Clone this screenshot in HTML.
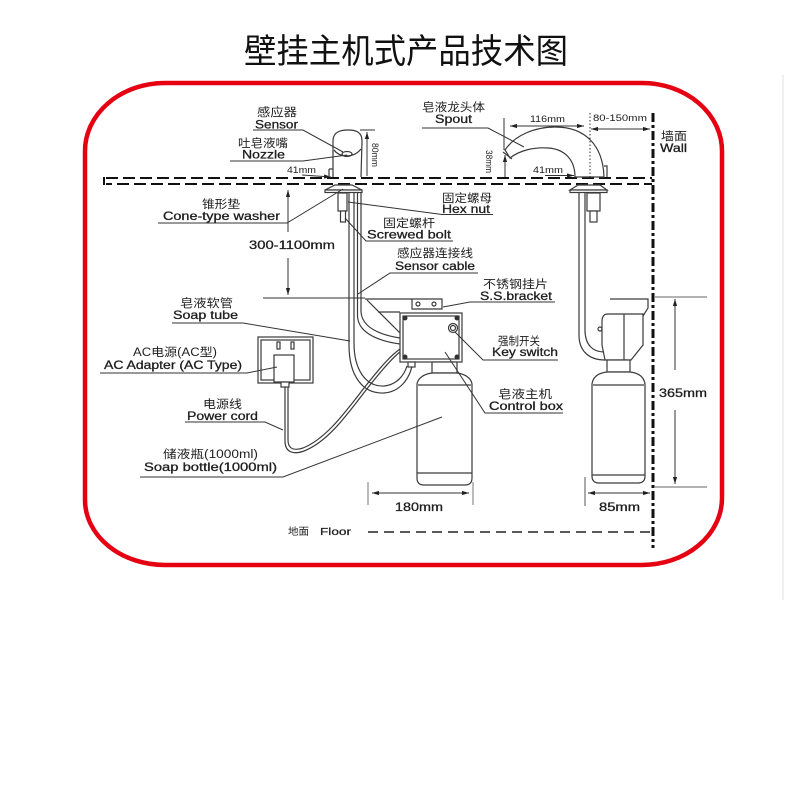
<!DOCTYPE html>
<html><head><meta charset="utf-8"><style>
html,body{margin:0;padding:0;background:#fff;}
svg{display:block;}
text{font-family:"Liberation Sans","Noto Sans CJK SC",sans-serif;fill:#1e1e1e;}
.cn{font-size:11.5px;}
.en{font-size:12px;stroke:#1e1e1e;stroke-width:0.3px;}
.sm{font-size:9px;}
.ln{fill:none;stroke:#333;stroke-width:1;}
.dr{fill:none;stroke:#3a3a3a;stroke-width:1.2;}
.dw{fill:#fff;stroke:#3a3a3a;stroke-width:1.2;}
</style></head><body>
<svg width="800" height="787" viewBox="0 0 800 787" xmlns="http://www.w3.org/2000/svg">
<defs>
<marker id="a" viewBox="0 0 10 10" refX="10" refY="5" markerWidth="7" markerHeight="7" orient="auto-start-reverse"><path d="M0,2 L10,5 L0,8 z" fill="#222"/></marker>
</defs>
<rect width="800" height="787" fill="#fff"/>
<line x1="783" y1="75" x2="783" y2="600" stroke="#ececec" stroke-width="1.5"/>

<!-- Title -->
<text x="244" y="63" style="font-size:34px;font-family:'Noto Sans CJK SC','WenQuanYi Zen Hei',sans-serif;fill:#111" textLength="324" lengthAdjust="spacingAndGlyphs">壁挂主机式产品技术图</text>

<!-- Red border -->
<path d="M165,83 L642,83 A80,68 0 0 1 722,151 L722,498 A80,67 0 0 1 642,565 L165,565 A80,65 0 0 1 85,500 L85,151 A80,68 0 0 1 165,83 Z" fill="none" stroke="#e50012" stroke-width="4.5"/>

<!-- Counter top -->
<line x1="106" y1="178" x2="652" y2="178" stroke="#111" stroke-width="2" stroke-dasharray="12 5"/>
<line x1="106" y1="184" x2="652" y2="184" stroke="#111" stroke-width="2" stroke-dasharray="12 5" stroke-dashoffset="6"/>
<line x1="104" y1="177" x2="104" y2="185" stroke="#111" stroke-width="2"/>

<!-- Wall -->
<line x1="653" y1="113" x2="653" y2="548" stroke="#111" stroke-width="3" stroke-dasharray="9 3 3 3"/>

<!-- Floor -->
<text x="288" y="535" style="font-size:10px" textLength="21" lengthAdjust="spacingAndGlyphs">地面</text>
<text x="320" y="535" style="font-size:10px;stroke:#1e1e1e;stroke-width:0.25px" textLength="31" lengthAdjust="spacingAndGlyphs">Floor</text>
<line x1="368" y1="532" x2="650" y2="532" stroke="#222" stroke-width="1.5" stroke-dasharray="10 6"/>

<!-- ===== Left sensor faucet ===== -->
<path class="dw" d="M333,177 L333,141 C333,132 340,130 348,130 C356,130 362,132 362,141 L361,177"/>
<path class="dr" d="M334,150 C340,158 354,158 361,149"/>
<ellipse cx="347" cy="154" rx="5" ry="2.5" class="dr"/>
<path class="dr" d="M329,169 L333,169 M329,169 L329,176"/>
<!-- 80mm -->
<line x1="360" y1="130" x2="375" y2="130" class="ln"/>
<line x1="367" y1="176" x2="367" y2="132" class="ln" marker-end="url(#a)"/>
<text transform="translate(372,143) rotate(90)" class="sm" textLength="24" lengthAdjust="spacingAndGlyphs">80mm</text>
<!-- 41mm left -->
<text x="287" y="173" class="sm" textLength="29" lengthAdjust="spacingAndGlyphs">41mm</text>
<line x1="302" y1="175" x2="331" y2="177" class="ln" marker-end="url(#a)"/>

<!-- left underside -->
<polygon points="335,185 352,185 362,190 325,190" class="dw"/>
<rect x="325" y="190" width="37" height="2.5" class="dw"/>
<path class="dr" d="M349,192 L349,345 C349,375 362,394 384,393 C399,392 409,380 412,366"/>
<path class="dr" d="M354,192 L354,343 C354,370 366,387 384,386 C396,385 404,376 407,366"/>
<path class="dr" d="M357.5,192 L357.5,316 C358,330 372,340 400,344"/>
<path class="dr" d="M361,192 L361,312 C362,325 375,334 400,338"/>
<rect x="338" y="193" width="9" height="18" class="dw"/>
<rect x="340.5" y="211" width="5" height="11" class="dw"/>

<!-- 300-1100mm -->
<line x1="288" y1="232" x2="288" y2="190" class="ln" marker-end="url(#a)"/>
<line x1="288" y1="258" x2="288" y2="295" class="ln" marker-end="url(#a)"/>
<text x="249" y="249" class="en" textLength="86" lengthAdjust="spacingAndGlyphs">300-1100mm</text>
<line x1="263" y1="298" x2="365" y2="298" class="ln"/>

<!-- Bracket left -->
<path class="dr" d="M365,299 L442,299 L442,309 L412,309 L412,299"/>
<circle cx="418" cy="304" r="2" class="dr"/>
<circle cx="434" cy="304" r="2" class="dr"/>
<path class="dr" d="M367,300 L401,334 M378,312 L400,312"/>

<!-- Power cord -->
<path class="dr" d="M285,387 L285,441 C285,452 293,455 304,451 C330,441 350,410 370,385 C382,370 392,358 400,352"/>
<path class="dr" d="M288,387 L288,440 C288,449 294,451 303,448 C328,438 348,408 368,383 C380,368 390,356 400,349"/>

<!-- Adapter / socket -->
<rect x="258" y="337" width="55" height="46" class="dw"/>
<rect x="261" y="340" width="49" height="40" class="dr"/>
<rect x="277" y="342" width="3" height="7" class="dr"/>
<rect x="291" y="342" width="3" height="7" class="dr"/>
<rect x="274" y="355" width="20" height="27" class="dw"/>
<rect x="281" y="382" width="8" height="5" class="dw"/>

<!-- Control box left -->
<rect x="400" y="313" width="62" height="49" class="dw" stroke-width="1.5"/>
<rect x="403" y="316" width="56" height="43" class="dr" stroke-width="0.8"/>
<circle cx="405" cy="318" r="2.5" fill="#333"/>
<circle cx="457" cy="318" r="2.5" fill="#333"/>
<circle cx="405" cy="357" r="2.5" fill="#333"/>
<circle cx="457" cy="357" r="2.5" fill="#333"/>
<circle cx="453" cy="328" r="4.5" class="dr"/>
<circle cx="453" cy="328" r="2.5" class="dr"/>
<rect x="408" y="362" width="7" height="5" class="dw"/>

<!-- Bottle left -->
<rect x="432" y="362" width="25" height="11" class="dw"/>
<path class="dw" d="M432,373 C424,374 418,378 417,384 L417,478 Q417,485 424,485 L465,485 Q472,485 472,478 L472,384 C471,378 465,374 457,373 Z"/>
<path class="dr" d="M417,473 L472,473 M418,385 L471,385"/>

<!-- 180mm -->
<line x1="368" y1="482" x2="368" y2="505" stroke="#777" stroke-width="1"/>
<line x1="473" y1="482" x2="473" y2="505" stroke="#777" stroke-width="1"/>
<line x1="372" y1="493" x2="469" y2="493" class="ln" marker-start="url(#a)" marker-end="url(#a)"/>
<text x="395" y="511" class="en" textLength="48" lengthAdjust="spacingAndGlyphs">180mm</text>

<!-- ===== Right side view ===== -->
<path class="dw" d="M505,150 C515,135 535,127 555,127 C585,127 603,145 604,177 L575,177 C575,160 565,149 548,148 C535,147 520,150 510,158 Z"/>
<path class="dr" d="M503,152 L512,159"/>
<path class="dr" d="M604,166 L607,166 L607,177"/>
<line x1="504" y1="118" x2="504" y2="150" class="ln"/>
<line x1="510" y1="126" x2="584" y2="126" class="ln" marker-start="url(#a)" marker-end="url(#a)"/>
<text x="530" y="122" class="sm" textLength="35" lengthAdjust="spacingAndGlyphs">116mm</text>
<line x1="590" y1="113" x2="590" y2="177" stroke="#333" stroke-width="1" stroke-dasharray="1.5 2"/>
<line x1="591" y1="129" x2="650" y2="129" class="ln" marker-start="url(#a)" marker-end="url(#a)"/>
<text x="593" y="121" class="sm" textLength="54" lengthAdjust="spacingAndGlyphs">80-150mm</text>
<line x1="505" y1="177" x2="505" y2="155" class="ln" marker-end="url(#a)"/>
<text transform="translate(486,150) rotate(90)" class="sm" textLength="23" lengthAdjust="spacingAndGlyphs">38mm</text>
<text x="533" y="173" class="sm" textLength="30" lengthAdjust="spacingAndGlyphs">41mm</text>
<line x1="545" y1="175.5" x2="574" y2="175.5" class="ln" marker-end="url(#a)"/>
<text x="661" y="140" class="cn" textLength="26" lengthAdjust="spacingAndGlyphs">墙面</text>
<text x="660" y="152" class="en" textLength="27" lengthAdjust="spacingAndGlyphs">Wall</text>

<!-- right underside -->
<polygon points="578,185 600,185 607,190 570,190" class="dw"/>
<rect x="570" y="190" width="37" height="2.5" class="dw"/>
<path class="dr" d="M579,193 L579,335 C579,352 590,360 605,360"/>
<path class="dr" d="M585,193 L585,330 C585,345 593,352 604,352"/>
<rect x="587" y="193" width="13" height="18" class="dw"/>
<rect x="590" y="211" width="7" height="11" class="dw"/>

<!-- right bracket & box -->
<path class="dr" d="M610,299 L648,299 L648,308 L643,316"/>
<path class="dw" d="M602,322 C602,316 604,314 608,314 L643,314 L643,345 L631,360 L605,360 L602,345 Z"/>
<line x1="624" y1="314" x2="624" y2="360" class="dr"/>
<circle cx="600" cy="329" r="2" class="dr"/>
<rect x="607" y="360" width="23" height="12" class="dw"/>
<path class="dw" d="M607,372 C598,373 593,377 592,384 L592,476 Q592,483 599,483 L638,483 Q645,483 645,476 L645,384 C644,377 639,373 630,372 Z"/>
<path class="dr" d="M592,475 L645,475 M593,385 L644,385"/>

<!-- 85mm -->
<line x1="585" y1="477" x2="585" y2="506" stroke="#555" stroke-width="1"/>
<line x1="588" y1="493" x2="650" y2="493" class="ln" marker-start="url(#a)" marker-end="url(#a)"/>
<text x="599" y="511" class="en" textLength="41" lengthAdjust="spacingAndGlyphs">85mm</text>

<!-- 365mm -->
<line x1="655" y1="297" x2="707" y2="297" stroke="#666" stroke-width="1"/>
<line x1="655" y1="487" x2="707" y2="487" stroke="#666" stroke-width="1"/>
<line x1="675" y1="370" x2="675" y2="299" class="ln" marker-end="url(#a)"/>
<line x1="675" y1="410" x2="675" y2="484" class="ln" marker-end="url(#a)"/>
<text x="659" y="397" class="en" textLength="48" lengthAdjust="spacingAndGlyphs">365mm</text>

<!-- ===== Leader lines ===== -->
<path class="ln" d="M253,130 L303,130 L343,152"/>
<path class="ln" d="M230,161 L303,161 L347,155"/>
<path class="ln" d="M158,223 L287,223 L343,189"/>
<path class="ln" d="M348,202 L442,214.5 L493,214.5"/>
<path class="ln" d="M345,218 L366,241 L453,241"/>
<path class="ln" d="M478,273 L390,273 L358,294"/>
<path class="ln" d="M443,307 L470,302 L555,302"/>
<path class="ln" d="M455,332 L483,360 L558,360"/>
<path class="ln" d="M445,352 L485,413 L563,413"/>
<path class="ln" d="M422,128 L488,128 L524,147"/>
<path class="ln" d="M172,323 L243,323 L350,341"/>
<path class="ln" d="M100,373 L247,373 L277,367"/>
<path class="ln" d="M185,422 L265,422 L283,430"/>
<path class="ln" d="M140,477 L283,477 L442,417"/>

<!-- ===== Labels ===== -->
<text x="257" y="116" class="cn" textLength="40" lengthAdjust="spacingAndGlyphs">感应器</text>
<text x="255" y="128.5" class="en" textLength="43" lengthAdjust="spacingAndGlyphs">Sensor</text>
<text x="238" y="147" class="cn" textLength="50" lengthAdjust="spacingAndGlyphs">吐皂液嘴</text>
<text x="242" y="158.5" class="en" textLength="43" lengthAdjust="spacingAndGlyphs">Nozzle</text>
<text x="202" y="208" class="cn" textLength="38" lengthAdjust="spacingAndGlyphs">锥形垫</text>
<text x="163" y="220" class="en" textLength="117" lengthAdjust="spacingAndGlyphs">Cone-type washer</text>

<text x="422" y="111" class="cn" textLength="63" lengthAdjust="spacingAndGlyphs">皂液龙头体</text>
<text x="435" y="123" class="en" textLength="37" lengthAdjust="spacingAndGlyphs">Spout</text>

<text x="442" y="202" class="cn" textLength="50" lengthAdjust="spacingAndGlyphs">固定螺母</text>
<text x="442" y="213" class="en" textLength="48" lengthAdjust="spacingAndGlyphs">Hex nut</text>
<text x="383" y="227" class="cn" textLength="52" lengthAdjust="spacingAndGlyphs">固定螺杆</text>
<text x="367" y="238.5" class="en" textLength="84" lengthAdjust="spacingAndGlyphs">Screwed bolt</text>
<text x="397" y="257" class="cn" textLength="76" lengthAdjust="spacingAndGlyphs">感应器连接线</text>
<text x="395" y="270" class="en" textLength="80" lengthAdjust="spacingAndGlyphs">Sensor cable</text>
<text x="483" y="288" class="cn" textLength="65" lengthAdjust="spacingAndGlyphs">不锈钢挂片</text>
<text x="480" y="300" class="en" textLength="72" lengthAdjust="spacingAndGlyphs">S.S.bracket</text>
<text x="498" y="345" class="cn" textLength="42" lengthAdjust="spacingAndGlyphs">强制开关</text>
<text x="492" y="356" class="en" textLength="66" lengthAdjust="spacingAndGlyphs">Key switch</text>
<text x="498" y="398" class="cn" textLength="54" lengthAdjust="spacingAndGlyphs">皂液主机</text>
<text x="489" y="410" class="en" textLength="74" lengthAdjust="spacingAndGlyphs">Control box</text>

<text x="180" y="307" class="cn" textLength="53" lengthAdjust="spacingAndGlyphs">皂液软管</text>
<text x="173" y="319" class="en" textLength="65" lengthAdjust="spacingAndGlyphs">Soap tube</text>
<text x="133" y="356" class="cn" textLength="84" lengthAdjust="spacingAndGlyphs">AC电源(AC型)</text>
<text x="104" y="369" class="en" textLength="138" lengthAdjust="spacingAndGlyphs">AC Adapter (AC Type)</text>
<text x="203" y="408" class="cn" textLength="39" lengthAdjust="spacingAndGlyphs">电源线</text>
<text x="187" y="420" class="en" textLength="71" lengthAdjust="spacingAndGlyphs">Power cord</text>
<text x="163" y="458" class="cn" textLength="95" lengthAdjust="spacingAndGlyphs">储液瓶(1000ml)</text>
<text x="144" y="471" class="en" textLength="133" lengthAdjust="spacingAndGlyphs">Soap bottle(1000ml)</text>
</svg>
</body></html>
